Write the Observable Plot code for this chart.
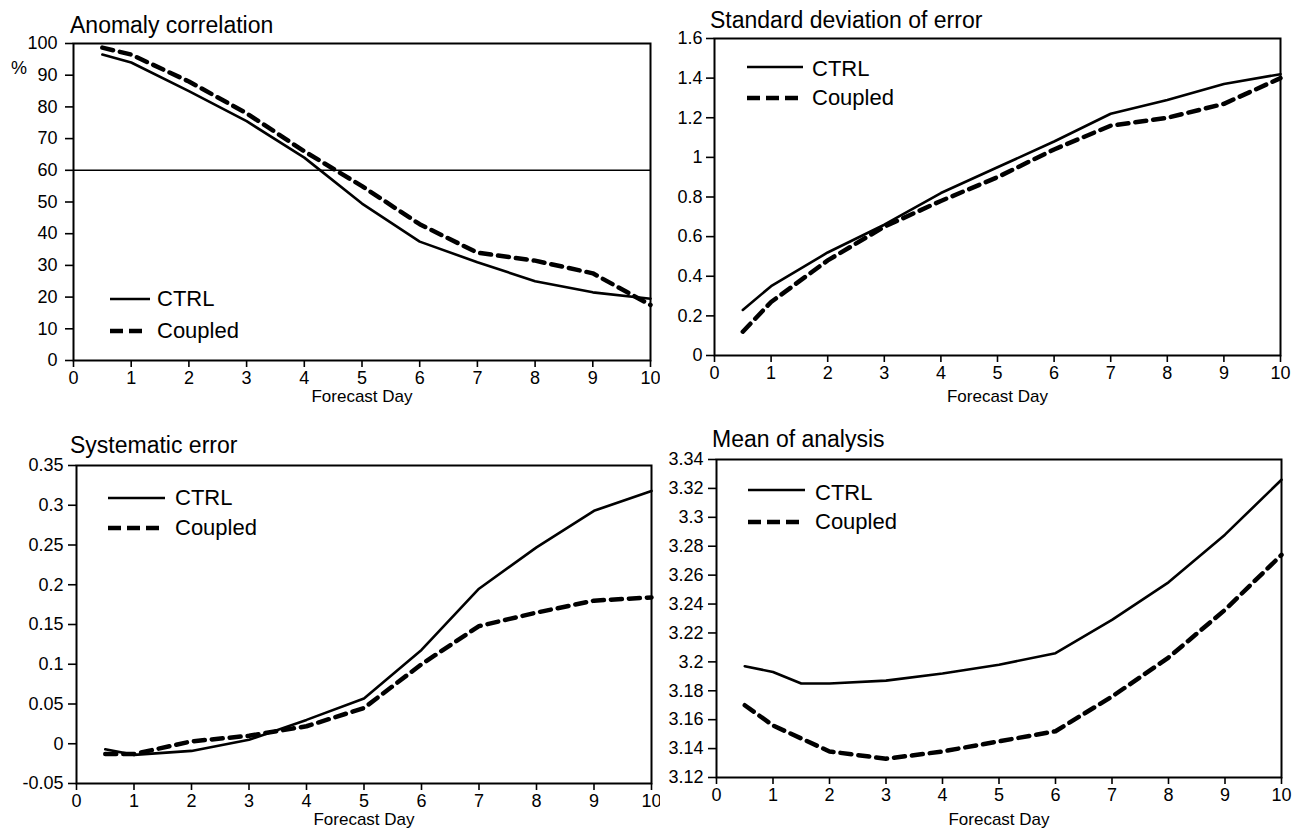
<!DOCTYPE html>
<html><head><meta charset="utf-8">
<script src="https://cdn.jsdelivr.net/npm/d3@7"></script>
<script src="https://cdn.jsdelivr.net/npm/@observablehq/plot@0.6"></script>
<style>
body{margin:0;background:#fff;font-family:"Liberation Sans",Arial,sans-serif;}
#root{position:relative;width:1298px;height:830px;overflow:hidden;background:#fff}
.panel{position:absolute}
.title{position:absolute;font-size:23px;white-space:nowrap;line-height:1;color:#000}
#overlay{position:absolute;left:0;top:0;pointer-events:none}
</style></head><body><div id="root"></div>
<script>
// ---- data ----
const days = [0.5, 1, 2, 3, 4, 5, 6, 7, 8, 9, 10];
const daysMean = [0.5, 1, 1.5, 2, 3, 4, 5, 6, 7, 8, 9, 10];
const xTicks = [0, 1, 2, 3, 4, 5, 6, 7, 8, 9, 10];

const acCtrl    = [96.5, 94, 85, 75.5, 64, 49.5, 37.5, 31, 25, 21.5, 19.5];
const acCoupled = [98.7, 96.5, 88, 78, 66, 55, 43, 34, 31.5, 27.5, 17.5];
const acTicks = [0, 10, 20, 30, 40, 50, 60, 70, 80, 90, 100];
const acRef = [60];

const sdCtrl    = [0.23, 0.35, 0.52, 0.66, 0.82, 0.95, 1.08, 1.22, 1.29, 1.37, 1.42];
const sdCoupled = [0.12, 0.27, 0.48, 0.65, 0.78, 0.9, 1.04, 1.16, 1.2, 1.27, 1.40];
const sdTicks = [0, 0.2, 0.4, 0.6, 0.8, 1, 1.2, 1.4, 1.6];

const seCtrl    = [-0.007, -0.014, -0.009, 0.005, 0.03, 0.057, 0.118, 0.195, 0.247, 0.293, 0.318];
const seCoupled = [-0.013, -0.013, 0.003, 0.01, 0.022, 0.045, 0.1, 0.148, 0.165, 0.18, 0.184];
const seTicks = [-0.05, 0, 0.05, 0.1, 0.15, 0.2, 0.25, 0.3, 0.35];

const maCtrl    = [3.197, 3.193, 3.185, 3.185, 3.187, 3.192, 3.198, 3.206, 3.229, 3.255, 3.288, 3.326];
const maCoupled = [3.170, 3.156, 3.147, 3.138, 3.133, 3.138, 3.145, 3.152, 3.176, 3.203, 3.236, 3.274];
const maTicks = [3.12, 3.14, 3.16, 3.18, 3.2, 3.22, 3.24, 3.26, 3.28, 3.3, 3.32, 3.34];

const titles = ["Anomaly correlation", "Standard deviation of error", "Systematic error", "Mean of analysis"];
const seriesNames = ["CTRL", "Coupled"];
const xLabel = "Forecast Day";

// ---- drawing ----
const root = document.getElementById("root");
const fmt = d => String(+(+d).toFixed(2));

function panel(o) {
  const toRows = (xs, ys) => xs.map((d, i) => ({day: d, value: ys[i]}));
  const chart = Plot.plot({
    width: o.width, height: o.height,
    marginTop: o.mt, marginRight: o.mr, marginBottom: o.mb, marginLeft: o.ml,
    x: {domain: [0, 10]},
    y: {domain: [o.yTicks[0], o.yTicks[o.yTicks.length - 1]]},
    style: {fontFamily: "Liberation Sans, Arial, sans-serif", fontSize: "18px", color: "#000", background: "#fff", overflow: "visible"},
    marks: [
      Plot.axisY({ticks: o.yTicks, tickSize: 8, tickPadding: o.tpy, tickFormat: fmt, label: null, strokeWidth: 1.6, fontSize: 18}),
      Plot.axisX({ticks: xTicks, tickSize: 7, tickPadding: 4, tickFormat: fmt, label: null, strokeWidth: 1.6, fontSize: 18}),
      Plot.axisX({ticks: [], tickSize: 0, label: xLabel, labelAnchor: "center", labelArrow: "none", labelOffset: o.lo, fontSize: 17}),
      ...(o.ref ? [Plot.ruleY(o.ref, {stroke: "#000", strokeWidth: 1.6})] : []),
      Plot.line(toRows(o.xs, o.ctrl), {x: "day", y: "value", stroke: "#000", strokeWidth: 2.6}),
      Plot.line(toRows(o.xs, o.coupled), {x: "day", y: "value", stroke: "#000", strokeWidth: 4.5, strokeDasharray: "11,7"}),
      Plot.frame({stroke: "#000", strokeWidth: 2})
    ]
  });
  chart.classList.add("panel");
  chart.style.left = o.left + "px";
  chart.style.top = o.top + "px";
  root.appendChild(chart);

  const t = document.createElement("div");
  t.className = "title";
  t.textContent = o.title;
  t.style.left = o.tx + "px";
  t.style.top = o.ty + "px";
  root.appendChild(t);
}

panel({left: 0, top: 0, width: 660, height: 400, mt: 43, mr: 10, mb: 40, ml: 73, lo: 41,
  yTicks: acTicks, tpy: 8, xs: days, ctrl: acCtrl, coupled: acCoupled, ref: acRef,
  title: titles[0], tx: 70, ty: 14});
panel({left: 660, top: 0, width: 638, height: 400, mt: 38, mr: 18, mb: 45, ml: 54, lo: 46,
  yTicks: sdTicks, tpy: 4, xs: days, ctrl: sdCtrl, coupled: sdCoupled,
  title: titles[1], tx: 710, ty: 9});
panel({left: 0, top: 420, width: 660, height: 410, mt: 45, mr: 9, mb: 47, ml: 76, lo: 41,
  yTicks: seTicks, tpy: 5, xs: days, ctrl: seCtrl, coupled: seCoupled,
  title: titles[2], tx: 70, ty: 434});
panel({left: 660, top: 420, width: 638, height: 410, mt: 39, mr: 17, mb: 53, ml: 56, lo: 47,
  yTicks: maTicks, tpy: 5, xs: daysMean, ctrl: maCtrl, coupled: maCoupled,
  title: titles[3], tx: 712, ty: 428});

// legends + "%" label overlay
const legends = [
  {x0: 110, x1: 150, ys: 299, yd: 331, tx: 157, bs: 306, bd: 338},
  {x0: 747, x1: 803, ys: 67, yd: 98, tx: 812, bs: 76, bd: 105},
  {x0: 108, x1: 165, ys: 498, yd: 528, tx: 175, bs: 505, bd: 535},
  {x0: 748, x1: 805, ys: 490, yd: 522, tx: 815, bs: 500, bd: 529}
];
const svg = d3.select(root).append("svg").attr("id", "overlay").attr("width", 1298).attr("height", 830)
  .attr("font-family", "Liberation Sans, Arial, sans-serif");
for (const L of legends) {
  svg.append("line").attr("x1", L.x0).attr("x2", L.x1).attr("y1", L.ys).attr("y2", L.ys)
    .attr("stroke", "#000").attr("stroke-width", 2.6);
  svg.append("line").attr("x1", L.x0).attr("x2", L.x1 - 4).attr("y1", L.yd).attr("y2", L.yd)
    .attr("stroke", "#000").attr("stroke-width", 4.5).attr("stroke-dasharray", "13,6");
  svg.append("text").attr("x", L.tx).attr("y", L.bs).attr("font-size", 22).text(seriesNames[0]);
  svg.append("text").attr("x", L.tx).attr("y", L.bd).attr("font-size", 22).text(seriesNames[1]);
}
svg.append("text").attr("x", 19).attr("y", 74).attr("font-size", 18).attr("text-anchor", "middle").text("%");
</script>
</body></html>
